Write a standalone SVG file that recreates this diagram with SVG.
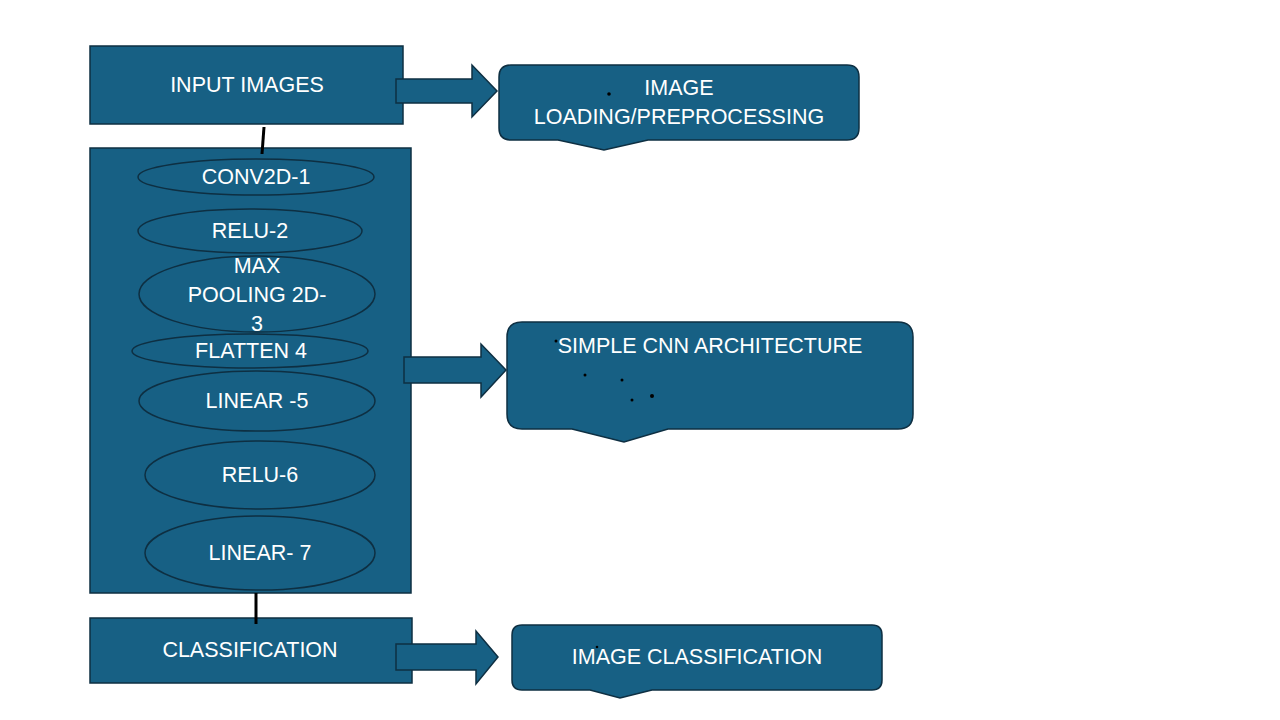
<svg xmlns="http://www.w3.org/2000/svg" width="1280" height="720" viewBox="0 0 1280 720">
<style>
.box{fill:#176084;stroke:#0e2f42;stroke-width:1.5}
.ell{fill:#176084;stroke:#0e2f42;stroke-width:1.5}
.barrow{fill:#176084;stroke:#0e2f42;stroke-width:1.5}
.t{font-family:"Liberation Sans",Arial,sans-serif;font-size:21.5px;fill:#ffffff;text-anchor:middle}
.link{stroke:#000;stroke-width:3;fill:none}
.dot{fill:#000}
</style>
<rect width="1280" height="720" fill="#ffffff"/>
<g id="input-images">
<rect class="box" x="90" y="46" width="313" height="78"/>
<text class="t" x="247" y="92">INPUT IMAGES</text>
</g>
<g id="cnn-block">
<rect class="box" x="90" y="148" width="321" height="445"/>
</g>
<g id="conv2d-1">
<ellipse class="ell" cx="256" cy="177" rx="118" ry="18"/>
<text class="t" x="256" y="184">CONV2D-1</text>
</g>
<g id="relu-2">
<ellipse class="ell" cx="250" cy="231" rx="112" ry="22"/>
<text class="t" x="250" y="238">RELU-2</text>
</g>
<g id="maxpool-3">
<ellipse class="ell" cx="257" cy="294" rx="118" ry="38"/>
<text class="t" x="257" y="273">MAX</text>
<text class="t" x="257" y="302">POOLING 2D-</text>
<text class="t" x="257" y="331">3</text>
</g>
<g id="flatten-4">
<ellipse class="ell" cx="250" cy="351" rx="118" ry="17"/>
<text class="t" x="251" y="358">FLATTEN 4</text>
</g>
<g id="linear-5">
<ellipse class="ell" cx="257" cy="401" rx="118" ry="30"/>
<text class="t" x="257" y="408">LINEAR -5</text>
</g>
<g id="relu-6">
<ellipse class="ell" cx="260" cy="475" rx="115" ry="34"/>
<text class="t" x="260" y="482">RELU-6</text>
</g>
<g id="linear-7">
<ellipse class="ell" cx="260" cy="553" rx="115" ry="37"/>
<text class="t" x="260" y="560">LINEAR- 7</text>
</g>
<g id="classification">
<rect class="box" x="90" y="618" width="322" height="65"/>
<text class="t" x="250" y="657">CLASSIFICATION</text>
</g>
<g id="image-loading">
<path class="box" d="M511 65 L847 65 Q859 65 859 77 L859 128 Q859 140 847 140 L648 140 L604 150 L558 140 L511 140 Q499 140 499 128 L499 77 Q499 65 511 65 Z"/>
<text class="t" x="679" y="95">IMAGE</text>
<text class="t" x="679" y="124">LOADING/PREPROCESSING</text>
<circle class="dot" cx="609" cy="94" r="1.8"/>
</g>
<g id="simple-cnn">
<path class="box" d="M522 322 L898 322 Q913 322 913 337 L913 414 Q913 429 898 429 L668 429 L624 442 L572 429 L522 429 Q507 429 507 414 L507 337 Q507 322 522 322 Z"/>
<text class="t" x="710" y="353">SIMPLE CNN ARCHITECTURE</text>
<circle class="dot" cx="556" cy="341" r="1.5"/>
<circle class="dot" cx="585" cy="375" r="1.5"/>
<circle class="dot" cx="622" cy="380" r="1.5"/>
<circle class="dot" cx="632" cy="400" r="1.5"/>
<circle class="dot" cx="652" cy="396" r="2"/>
</g>
<g id="image-classification">
<path class="box" d="M522 625 L872 625 Q882 625 882 635 L882 680 Q882 690 872 690 L652 690 L620 698 L590 690 L522 690 Q512 690 512 680 L512 635 Q512 625 522 625 Z"/>
<text class="t" x="697" y="664">IMAGE CLASSIFICATION</text>
<circle class="dot" cx="597" cy="647" r="1.3"/>
</g>
<g id="connectors">
<path class="link" d="M264 127 L262 154"/>
<path class="link" d="M256 593 L256 624"/>
<path class="barrow" d="M396 79 L472 79 L472 65 L497 91 L472 117 L472 103 L396 103 Z"/>
<path class="barrow" d="M404 357 L481 357 L481 344 L506 370 L481 397 L481 383 L404 383 Z"/>
<path class="barrow" d="M396 644 L476 644 L476 631 L498 657 L476 684 L476 670 L396 670 Z"/>
</g>
</svg>
